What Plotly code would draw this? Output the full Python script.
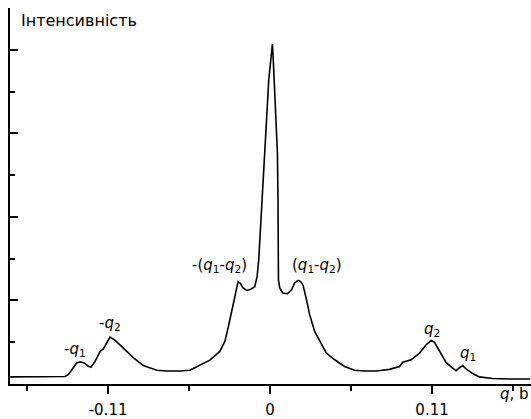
import plotly.graph_objects as go

# Scattering wave vector q and measured intensity (arb. units)
q = [-0.1764, -0.1560, -0.1412, -0.1392, -0.1369, -0.1351, -0.1335, -0.1312,
     -0.1285, -0.1256, -0.1236, -0.1217, -0.1188, -0.1154, -0.1132, -0.1110,
     -0.1087, -0.1053, -0.0996, -0.0929, -0.0861, -0.0770, -0.0702, -0.0612,
     -0.0544, -0.0476, -0.0409, -0.0341, -0.0307, -0.0285, -0.0262, -0.0239,
     -0.0217, -0.0205, -0.0183, -0.0158, -0.0131, -0.0104, -0.0088, -0.0077,
     -0.0063, -0.0052, -0.0036, -0.0024, -0.0009, 0.0016, 0.0022, 0.0035,
     0.0050, 0.0054, 0.0054, 0.0057, 0.0066, 0.0086, 0.0118, 0.0147,
     0.0167, 0.0190, 0.0208, 0.0224, 0.0247, 0.0269, 0.0303, 0.0337,
     0.0382, 0.0439, 0.0506, 0.0574, 0.0642, 0.0721, 0.0811, 0.0879,
     0.0901, 0.0958, 0.1015, 0.1060, 0.1094, 0.1116, 0.1162, 0.1196,
     0.1236, 0.1263, 0.1286, 0.1308, 0.1331, 0.1376, 0.1421, 0.1511,
     0.1625, 0.1767]
intensity = [0.17, 0.17, 0.17, 0.18, 0.23, 0.32, 0.42, 0.51,
             0.53, 0.49, 0.43, 0.40, 0.54, 0.78, 0.84, 0.99,
             1.12, 1.05, 0.86, 0.63, 0.44, 0.33, 0.31, 0.31,
             0.33, 0.45, 0.57, 0.78, 1.02, 1.34, 1.74, 2.10,
             2.45, 2.42, 2.30, 2.24, 2.27, 2.33, 2.57, 2.97,
             3.93, 4.40, 5.60, 6.31, 7.27, 8.14, 7.74, 6.78,
             5.53, 4.40, 2.80, 2.49, 2.30, 2.18, 2.16, 2.26,
             2.42, 2.48, 2.45, 2.37, 2.02, 1.66, 1.26, 1.02,
             0.74, 0.58, 0.42, 0.33, 0.31, 0.31, 0.35, 0.42,
             0.52, 0.58, 0.74, 0.94, 1.04, 1.00, 0.70, 0.51,
             0.39, 0.32, 0.39, 0.44, 0.36, 0.25, 0.17, 0.13,
             0.12, 0.12]

# Axis ticks
x_major = [-0.11, 0, 0.11]
x_major_text = ["-0.11", "0", "0.11"]
x_minor = [-0.165, -0.055, 0.055, 0.165]
y_major = [2, 4, 6, 8]
y_minor = [1, 3, 5, 7, 9]

# Peak labels: text, q position, intensity position
peak_text = ["-<i>q</i><sub>1</sub>", "-<i>q</i><sub>2</sub>",
             "-(<i>q</i><sub>1</sub>-<i>q</i><sub>2</sub>)",
             "(<i>q</i><sub>1</sub>-<i>q</i><sub>2</sub>)",
             "<i>q</i><sub>2</sub>", "<i>q</i><sub>1</sub>"]
peak_q = [-0.1325, -0.1090, -0.0340, 0.0320, 0.1100, 0.1345]
peak_i = [0.82, 1.45, 2.83, 2.83, 1.30, 0.72]

FONT = "DejaVu Sans, sans-serif"

fig = go.Figure()
fig.add_trace(go.Scatter(x=q, y=intensity, mode="lines",
                         line=dict(color="black", width=1.6),
                         hoverinfo="skip", showlegend=False))

for t, xq, yi in zip(peak_text, peak_q, peak_i):
    fig.add_annotation(x=xq, y=yi, text=t, showarrow=False,
                       font=dict(family=FONT, size=15, color="black"),
                       xanchor="center", yanchor="middle")

fig.add_annotation(xref="paper", yref="paper", x=0.018, y=1.0,
                   text="Інтенсивність", showarrow=False,
                   xanchor="left", yanchor="top", yshift=-1,
                   font=dict(family=FONT, size=16, color="black"))
fig.add_annotation(xref="paper", yref="paper", x=1.0, y=0.0,
                   text="<i>q</i>, b", showarrow=False,
                   xanchor="right", yanchor="top", yshift=1,
                   font=dict(family=FONT, size=15, color="black"))

fig.update_xaxes(range=[-0.1766, 0.1772], showgrid=False, zeroline=False,
                 showline=True, linecolor="black", linewidth=1.6,
                 tickvals=x_major, ticktext=x_major_text,
                 ticks="outside", ticklen=8, tickwidth=1.6, tickcolor="black",
                 ticklabelstandoff=3,
                 tickfont=dict(family=FONT, size=15, color="black"),
                 minor=dict(tickvals=x_minor, ticks="outside", ticklen=5,
                            tickwidth=1.6, tickcolor="black"))
fig.update_yaxes(range=[0, 9], showgrid=False, zeroline=False,
                 showline=True, linecolor="black", linewidth=1.6,
                 tickvals=y_major, showticklabels=False,
                 ticks="inside", ticklen=8, tickwidth=1.6, tickcolor="black",
                 minor=dict(tickvals=y_minor, ticks="inside", ticklen=5,
                            tickwidth=1.6, tickcolor="black"))

fig.update_layout(width=531, height=419,
                  margin=dict(l=10, r=0, t=8, b=35),
                  paper_bgcolor="white", plot_bgcolor="white")

fig.write_html("out.html")
